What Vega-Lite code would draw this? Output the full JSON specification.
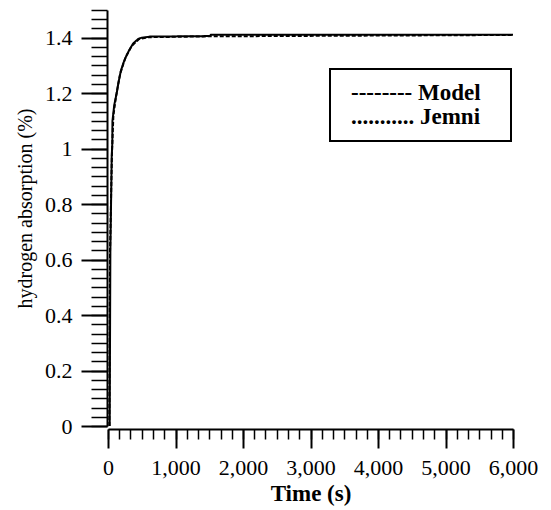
{
  "$schema": "https://vega.github.io/schema/vega-lite/v6.json",
  "width": 405,
  "height": 416,
  "autosize": {"type": "none"},
  "padding": {"left": 108, "top": 10, "right": 38, "bottom": 84},
  "background": "white",
  "config": {
    "view": {"stroke": null},
    "font": "Liberation Serif",
    "axis": {"grid": false, "labelFont": "Liberation Serif", "titleFont": "Liberation Serif", "labelColor": "black", "titleColor": "black", "domainColor": "black", "tickColor": "black"},
    "legend": {"strokeWidth": 2}
  },
  "data": {
    "values": [
      {"series": "Model", "t": 25, "h": 0},
      {"series": "Model", "t": 35, "h": 0.63},
      {"series": "Model", "t": 55, "h": 0.97},
      {"series": "Model", "t": 64, "h": 1.02},
      {"series": "Model", "t": 66, "h": 1.1},
      {"series": "Model", "t": 93, "h": 1.158},
      {"series": "Model", "t": 129, "h": 1.2},
      {"series": "Model", "t": 153, "h": 1.236},
      {"series": "Model", "t": 188, "h": 1.278},
      {"series": "Model", "t": 227, "h": 1.308},
      {"series": "Model", "t": 267, "h": 1.332},
      {"series": "Model", "t": 316, "h": 1.356},
      {"series": "Model", "t": 375, "h": 1.38},
      {"series": "Model", "t": 449, "h": 1.396},
      {"series": "Model", "t": 499, "h": 1.4},
      {"series": "Model", "t": 622, "h": 1.404},
      {"series": "Model", "t": 1510, "h": 1.406},
      {"series": "Model", "t": 1525, "h": 1.411},
      {"series": "Model", "t": 6000, "h": 1.411},
      {"series": "Jemni", "t": 20, "h": 0},
      {"series": "Jemni", "t": 30, "h": 0.63},
      {"series": "Jemni", "t": 58, "h": 0.98},
      {"series": "Jemni", "t": 80, "h": 1.12},
      {"series": "Jemni", "t": 120, "h": 1.19},
      {"series": "Jemni", "t": 180, "h": 1.27},
      {"series": "Jemni", "t": 260, "h": 1.33},
      {"series": "Jemni", "t": 350, "h": 1.37},
      {"series": "Jemni", "t": 460, "h": 1.395},
      {"series": "Jemni", "t": 600, "h": 1.402},
      {"series": "Jemni", "t": 1500, "h": 1.405},
      {"series": "Jemni", "t": 6000, "h": 1.41}
    ]
  },
  "layer": [
    {
      "mark": {"type": "line", "strokeWidth": 2},
      "encoding": {
        "x": {"field": "t", "type": "quantitative", "scale": {"domain": [0, 6000], "nice": false, "zero": false},
          "axis": {"orient": "bottom", "offset": 3, "values": [0,1000,2000,3000,4000,5000,6000], "format": ",.0f", "labelOverlap": false, "labelFlush": false, "labelBound": false, "tickSize": 19, "tickWidth": 2, "domainWidth": 2,
            "labelFont": "Liberation Serif", "labelFontSize": 22, "labelPadding": 9, "labelColor": "black",
            "title": "Time (s)", "titleFont": "Liberation Serif", "titleFontSize": 23, "titleFontWeight": "bold", "titlePadding": 4, "titleColor": "black"}},
        "y": {"field": "h", "type": "quantitative", "scale": {"domain": [0, 1.5], "nice": false},
          "axis": {"orient": "left", "offset": 1, "values": [0,0.2,0.4,0.6,0.8,1,1.2,1.4], "labelExpr": "format(datum.value, '~g')", "labelOverlap": false, "labelFlush": false, "tickSize": 26, "tickWidth": 2, "domainWidth": 2,
            "labelFont": "Liberation Serif", "labelFontSize": 22, "labelPadding": 9, "labelColor": "black",
            "title": "hydrogen absorption (%)", "titleFont": "Liberation Serif", "titleFontSize": 20, "titleFontWeight": "normal", "titlePadding": 9, "titleY": 198, "titleColor": "black"}},
        "color": {"field": "series", "type": "nominal", "scale": {"domain": ["Model", "Jemni"], "range": ["black", "black"]},
          "legend": {"orient": "none", "legendX": 222, "legendY": 59, "title": "--", "titleOrient": "right", "titleOpacity": 0, "titleFont": "Liberation Serif", "titleFontSize": 23, "titleFontWeight": "bold", "titlePadding": 2,
            "strokeColor": "black", "padding": 12,
            "symbolSize": 16, "symbolOpacity": 0, "symbolStrokeWidth": 0, "labelOffset": -14, "rowPadding": 0, "labelLimit": 400,
            "labelFont": "Liberation Serif", "labelFontSize": 23, "labelFontWeight": "bold", "labelColor": "black",
            "labelExpr": "datum.value == 'Model' ? '-------- Model' : '........... Jemni'"}},
        "strokeDash": {"field": "series", "type": "nominal", "scale": {"domain": ["Model", "Jemni"]}, "legend": null}
      }
    },
    {
      "mark": {"type": "line", "opacity": 0},
      "encoding": {
        "x": {"field": "t", "type": "quantitative", "scale": {"domain": [0, 6000], "nice": false, "zero": false},
          "axis": {"orient": "bottom", "offset": 3, "domain": false, "labels": false, "title": null, "tickSize": 10, "tickWidth": 1.5,
            "values": [0,166.667,333.333,500,666.667,833.333,1000,1166.667,1333.333,1500,1666.667,1833.333,2000,2166.667,2333.333,2500,2666.667,2833.333,3000,3166.667,3333.333,3500,3666.667,3833.333,4000,4166.667,4333.333,4500,4666.667,4833.333,5000,5166.667,5333.333,5500,5666.667,5833.333,6000]}},
        "y": {"field": "h", "type": "quantitative", "scale": {"domain": [0, 1.5], "nice": false},
          "axis": {"orient": "left", "offset": 1, "domain": false, "labels": false, "title": null, "tickSize": 16, "tickWidth": 1.5,
            "values": [0,0.0333,0.0667,0.1,0.1333,0.1667,0.2,0.2333,0.2667,0.3,0.3333,0.3667,0.4,0.4333,0.4667,0.5,0.5333,0.5667,0.6,0.6333,0.6667,0.7,0.7333,0.7667,0.8,0.8333,0.8667,0.9,0.9333,0.9667,1,1.0333,1.0667,1.1,1.1333,1.1667,1.2,1.2333,1.2667,1.3,1.3333,1.3667,1.4,1.4333,1.4667,1.5]}},
        "detail": {"field": "series"}
      }
    }
  ],
  "resolve": {"scale": {"x": "independent", "y": "independent"}, "axis": {"x": "independent", "y": "independent"}}
}
